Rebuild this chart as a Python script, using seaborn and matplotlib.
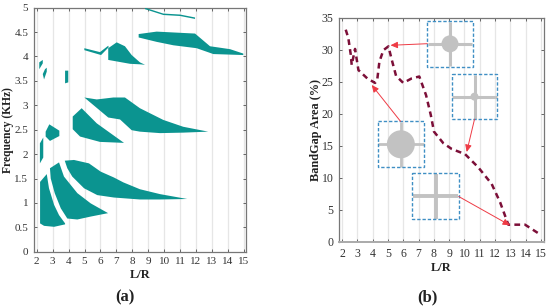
import matplotlib
matplotlib.use("Agg")
import matplotlib.pyplot as plt
from matplotlib.patches import Rectangle, Circle
import pandas as pd
import seaborn as sns

sns.set_theme(style="ticks")
plt.rcParams['font.family'] = ['Liberation Serif', 'DejaVu Serif']

TEAL = "#0b9490"
WINE = "#7c0f38"
GREY = "#c2c2c2"
BLUE = "#3f8fc4"
RED = "#ee3b45"

# Panel (a): band-gap regions, L/R and frequency outlines
band_a_x = [2.21, 2.63, 2.77, 3.09, 3.40, 3.78, 3.78, 3.09, 2.46, 2.21]
band_a_f = [1.43, 1.59, 1.30, 0.96, 0.75, 0.58, 0.56, 0.51, 0.53, 0.58]
band_b_x = [2.83, 3.40, 3.71, 4.55, 5.39, 6.48, 5.39, 4.55, 3.92, 3.51, 3.13, 2.88]
band_b_f = [1.71, 1.83, 1.54, 1.20, 0.99, 0.79, 0.72, 0.66, 0.68, 0.89, 1.20, 1.50]
band_c_x = [3.76, 4.34, 5.28, 6.02, 6.85, 7.44, 8.48, 9.74, 11.45, 9.7, 8.48, 6.85, 5.80, 4.97, 4.23, 3.92]
band_c_f = [1.865, 1.88, 1.81, 1.64, 1.52, 1.42, 1.28, 1.18, 1.08, 1.07, 1.07, 1.11, 1.16, 1.30, 1.54, 1.71]
band_d_x = [2.2, 2.41, 2.41, 2.2]
band_d_f = [2.22, 2.34, 1.93, 1.81]
band_e_x = [2.79, 3.42, 3.42, 2.83, 2.56, 2.56]
band_e_f = [2.61, 2.48, 2.37, 2.27, 2.36, 2.46]
band_f_x = [4.26, 4.82, 5.77, 7.48, 5.97, 4.72, 4.26]
band_f_f = [2.77, 2.94, 2.63, 2.23, 2.25, 2.36, 2.51]
band_g_x = [4.99, 5.77, 6.81, 7.54, 8.48, 9.95, 11.2, 12.77, 11.2, 9.74, 8.48, 7.96, 7.23, 6.49]
band_g_f = [3.16, 3.12, 3.16, 3.16, 2.94, 2.70, 2.56, 2.46, 2.44, 2.43, 2.46, 2.49, 2.71, 2.75]
band_h_x = [4.99, 5.97, 6.49, 6.52, 6.04, 4.99]
band_h_f = [4.17, 4.09, 4.22, 4.19, 4.03, 4.13]
band_i_x = [6.49, 7.02, 7.54, 7.96, 8.48, 8.8, 8.48, 7.86, 6.49]
band_i_f = [4.17, 4.29, 4.21, 4.03, 3.88, 3.83, 3.84, 3.85, 3.93]
band_j_x = [8.4, 9.53, 11.94, 12.88, 14.14, 14.97, 14.97, 13.09, 12.04, 10.58, 9.53, 8.4]
band_j_f = [4.46, 4.51, 4.47, 4.21, 4.15, 4.06, 4.03, 4.05, 4.17, 4.23, 4.30, 4.39]
band_k_x = [8.8, 9.95, 11.0, 11.94, 11.94, 11.0, 9.95, 8.8]
band_k_f = [5.0, 4.88, 4.86, 4.80, 4.77, 4.83, 4.85, 4.97]
band_l_x = [2.16, 2.38, 2.38, 2.16]
band_l_f = [3.88, 3.93, 3.86, 3.74]
band_m_x = [2.52, 2.63, 2.63, 2.46, 2.38]
band_m_f = [3.74, 3.77, 3.69, 3.53, 3.64]
band_n_x = [3.78, 3.98, 3.98, 3.78]
band_n_f = [3.71, 3.71, 3.47, 3.45]

bands = [(band_a_x, band_a_f), (band_b_x, band_b_f), (band_c_x, band_c_f),
         (band_d_x, band_d_f), (band_e_x, band_e_f), (band_f_x, band_f_f),
         (band_g_x, band_g_f), (band_h_x, band_h_f), (band_i_x, band_i_f),
         (band_j_x, band_j_f), (band_k_x, band_k_f), (band_l_x, band_l_f),
         (band_m_x, band_m_f), (band_n_x, band_n_f)]

# Panel (b): band-gap area curve
area_x = [2.24, 2.41, 2.57, 2.63, 2.85, 3.07, 3.65, 4.16, 4.3, 4.44, 4.7, 5.03,
          5.25, 5.53, 6.0, 6.55, 7.05, 7.49, 7.8, 8.01, 8.62, 9.17, 10.04, 10.9,
          11.78, 12.33, 12.87, 13.96, 15.0]
area_y = [33.1, 31.8, 29.2, 27.6, 30.1, 26.8, 25.5, 24.8, 25.3, 28.1, 29.9, 30.5,
          28.4, 25.9, 24.8, 25.5, 25.8, 22.9, 19.8, 17.2, 15.4, 14.5, 13.7, 11.65,
          9.05, 6.2, 2.7, 2.7, 1.1]

lr_ticks = list(range(2, 16))
freq_ticks = [0, 0.5, 1, 1.5, 2, 2.5, 3, 3.5, 4, 4.5, 5]
freq_labels = ["0", "0.5", "1", "1.5", "2", "2.5", "3", "3.5", "4", "4.5", "5"]
area_ticks = [0, 5, 10, 15, 20, 25, 30, 35]

W, H = 550, 308
fig = plt.figure(figsize=(5.5, 3.08), dpi=100, facecolor="white")


def axes_px(x0, x1, top, bottom):
    return fig.add_axes([x0 / W, 1 - bottom / H, (x1 - x0) / W, (bottom - top) / H])


def style(ax, xlabel, ylabel, size, label_size, ypad):
    ax.set_xticks(lr_ticks)
    ax.grid(axis="x", color="#e6e6e6", lw=0.9)
    ax.grid(axis="y", visible=False)
    ax.set_axisbelow(True)
    ax.tick_params(axis="both", which="major", direction="in", length=2, width=0.7,
                   top=True, right=True, color="#666666", labelcolor="#333333",
                   labelsize=size, pad=4)
    for sp in ax.spines.values():
        sp.set_color("#777777")
        sp.set_linewidth(0.9)
    ax.set_xlabel(xlabel, fontweight="bold", fontsize=9, color="#222222", labelpad=2)
    ax.set_ylabel(ylabel, fontweight="bold", fontsize=label_size, color="#222222", labelpad=ypad)


ax1 = axes_px(33.7, 246, 7.7, 251.7)
for xs, fs in bands:
    ax1.fill(xs, fs, color=TEAL, lw=0, zorder=3)
ax1.set_xlim(1.81, 15.14)
ax1.set_ylim(0, 5)
ax1.set_yticks(freq_ticks)
ax1.set_yticklabels(freq_labels)
style(ax1, "L/R", "Frequency (KHz)", 8, 8.4, 0)

ax2 = axes_px(339.3, 544, 17.5, 242)
curve = pd.DataFrame({"L/R": area_x, "area": area_y})
sns.lineplot(data=curve, x="L/R", y="area", ax=ax2, sort=False, estimator=None,
             color=WINE, lw=1.8, linestyle=(0, (2.3, 1.7)), zorder=3)
ax2.set_xlim(1.82, 15.2)
ax2.set_ylim(0, 35)
ax2.set_yticks(area_ticks)
style(ax2, "L/R", "BandGap Area (%)", 8.5, 8.8, 0)
ax2.spines["bottom"].set_color("#aaaaaa")
ax2.spines["bottom"].set_linewidth(1.4)

# Illustration layer in pixel coordinates
ov = fig.add_axes([0, 0, 1, 1], facecolor="none")
ov.set_xlim(0, W)
ov.set_ylim(H, 0)
ov.axis("off")


def cell(x0, x1, y0, y1, radius, arm):
    cx, cy = (x0 + x1) / 2, (y0 + y1) / 2
    ov.plot([x0 + 0.5, x1 - 0.5], [cy, cy], color=GREY, lw=arm, solid_capstyle="butt", zorder=4)
    ov.plot([cx, cx], [y0 + 0.5, y1 - 0.5], color=GREY, lw=arm, solid_capstyle="butt", zorder=4)
    if radius:
        ov.add_patch(Circle((cx, cy), radius, color=GREY, lw=0, zorder=4))
    ov.add_patch(Rectangle((x0, y0), x1 - x0, y1 - y0, fill=False, ec=BLUE, lw=1.0,
                           ls=(0, (2.4, 1.4)), zorder=5))


cell(377.7, 424, 121.3, 167.3, 14, 2.0)
cell(427.3, 472.7, 21, 66.7, 8.5, 2.2)
cell(451.7, 497.3, 74, 119.3, 4, 2.2)
cell(412.3, 458.7, 173.3, 219, 0, 2.8)


def arrow(start, end):
    ov.annotate("", xy=end, xytext=start, zorder=6,
                arrowprops=dict(arrowstyle="-|>,head_length=0.35,head_width=0.16",
                                color=RED, lw=0.7, shrinkA=0, shrinkB=0))


arrow((427.3, 43.7), (390.5, 45.3))
arrow((400.5, 121.3), (371.7, 85))
arrow((474.5, 119.3), (466.7, 152))
arrow((458.7, 196.5), (510, 225.3))

fig.text(125 / W, 1 - 301 / H, "(a)", fontsize=12, fontweight="bold", color="#222222",
         ha="center", va="baseline")
fig.text(427 / W, 1 - 301 / H, "(b)", fontsize=12, fontweight="bold", color="#222222",
         ha="center", va="baseline")

fig.savefig("out.png", dpi=100)
